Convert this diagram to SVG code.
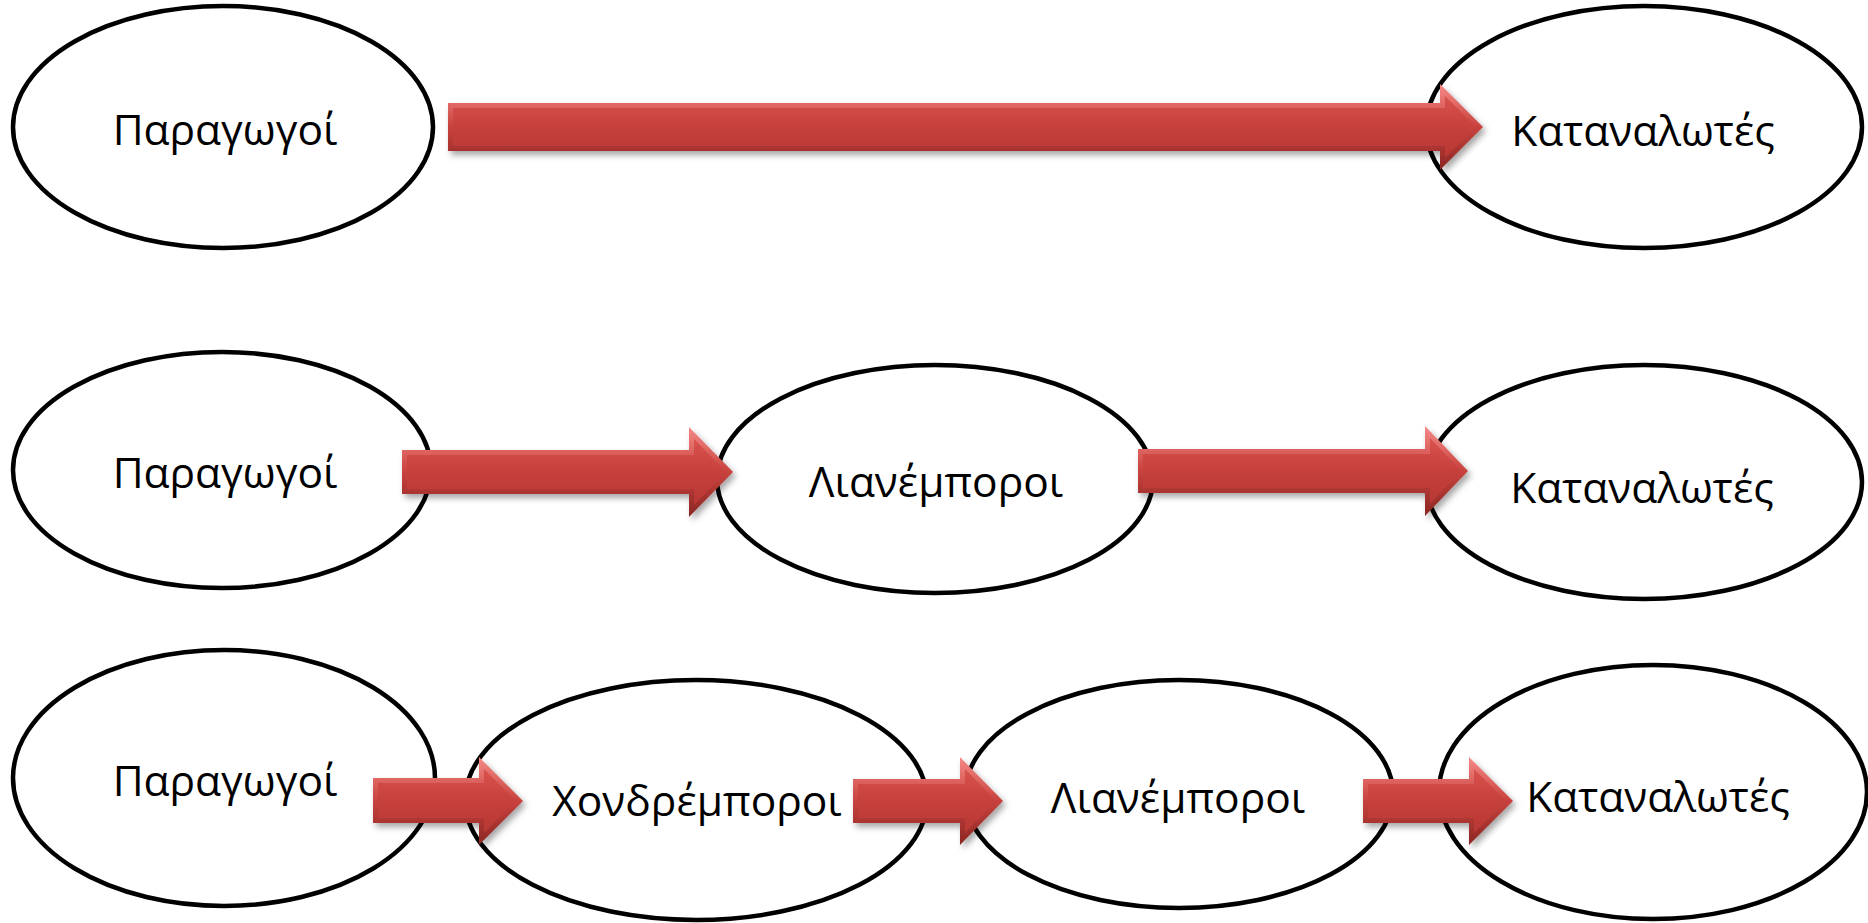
<svg xmlns="http://www.w3.org/2000/svg" width="1868" height="923" viewBox="0 0 1868 923">
  <style>
    .node ellipse { fill: #ffffff; stroke: #000000; stroke-width: 4.5; }
    .node text { font-family: "Open Sans", "Noto Sans", "DejaVu Sans", sans-serif; font-size: 42.5px; fill: #000000; text-anchor: middle; }
    .arrow .outer { fill: url(#bevel); filter: url(#shadow); }
    .arrow .inner { fill: url(#face); }
  </style>
  <defs>
    <linearGradient id="bevel" x1="0" y1="0" x2="0" y2="1">
      <stop offset="0" stop-color="#F58A87"/>
      <stop offset="0.5" stop-color="#C8423E"/>
      <stop offset="1" stop-color="#8A2623"/>
    </linearGradient>
    <linearGradient id="face" x1="0" y1="0" x2="0" y2="1">
      <stop offset="0" stop-color="#D9524E"/>
      <stop offset="0.5" stop-color="#C6403C"/>
      <stop offset="1" stop-color="#B83834"/>
    </linearGradient>
    <filter id="shadow" x="-10%" y="-30%" width="120%" height="170%">
      <feDropShadow dx="3" dy="4" stdDeviation="3" flood-color="#000000" flood-opacity="0.35"/>
    </filter>
  </defs>

  <!-- Row 1 -->
  <g id="r1-paragogoi" class="node">
    <ellipse cx="223" cy="127" rx="210" ry="121"/>
    <text x="225" y="145">Παραγωγοί</text>
  </g>
  <g id="r1-katanalotes" class="node">
    <ellipse cx="1644" cy="127" rx="218" ry="121"/>
    <text x="1643" y="146">Καταναλωτές</text>
  </g>

  <!-- Row 2 -->
  <g id="r2-paragogoi" class="node">
    <ellipse cx="222" cy="470" rx="209" ry="118"/>
    <text x="225" y="488">Παραγωγοί</text>
  </g>
  <g id="r2-lianemporoi" class="node">
    <ellipse cx="935" cy="479" rx="218" ry="114"/>
    <text x="936" y="497">Λιανέμποροι</text>
  </g>
  <g id="r2-katanalotes" class="node">
    <ellipse cx="1644" cy="482" rx="218" ry="117"/>
    <text x="1642" y="503">Καταναλωτές</text>
  </g>

  <!-- Row 3 -->
  <g id="r3-paragogoi" class="node">
    <ellipse cx="224" cy="778" rx="211" ry="128"/>
    <text x="225" y="796">Παραγωγοί</text>
  </g>
  <g id="r3-chondremporoi" class="node">
    <ellipse cx="696" cy="800" rx="231" ry="120"/>
    <text x="697" y="816">Χονδρέμποροι</text>
  </g>
  <g id="r3-lianemporoi" class="node">
    <ellipse cx="1179" cy="794" rx="214" ry="114"/>
    <text x="1178" y="813">Λιανέμποροι</text>
  </g>
  <g id="r3-katanalotes" class="node">
    <ellipse cx="1653" cy="792" rx="214" ry="127"/>
    <text x="1658" y="812">Καταναλωτές</text>
  </g>

  <!-- Connectors -->
  <g id="connectors">
    <g class="arrow" id="a1">
      <path class="outer" d="M448,103 H1440 V84 L1483,127 L1440,170 V151 H448 Z"/>
      <path class="inner" d="M453,108 H1445 V96 L1476,127 L1445,158 V146 H453 Z"/>
    </g>
    <g class="arrow" id="a2">
      <path class="outer" d="M402,450 H689 V427 L733,472 L689,517 V494 H402 Z"/>
      <path class="inner" d="M407,455 H694 V439 L726,472 L694,505 V489 H407 Z"/>
    </g>
    <g class="arrow" id="a3">
      <path class="outer" d="M1138,449 H1425 V426 L1468,471 L1425,516 V493 H1138 Z"/>
      <path class="inner" d="M1143,454 H1430 V438 L1461,471 L1430,504 V488 H1143 Z"/>
    </g>
    <g class="arrow" id="a4">
      <path class="outer" d="M373,778 H479 V757 L523,801 L479,845 V823 H373 Z"/>
      <path class="inner" d="M378,783 H484 V769 L516,801 L484,833 V818 H378 Z"/>
    </g>
    <g class="arrow" id="a5">
      <path class="outer" d="M853,779 H960 V757 L1003,801 L960,845 V823 H853 Z"/>
      <path class="inner" d="M858,784 H965 V769 L996,801 L965,833 V818 H858 Z"/>
    </g>
    <g class="arrow" id="a6">
      <path class="outer" d="M1363,779 H1469 V757 L1513,801 L1469,845 V823 H1363 Z"/>
      <path class="inner" d="M1368,784 H1474 V769 L1506,801 L1474,833 V818 H1368 Z"/>
    </g>
  </g>
</svg>
